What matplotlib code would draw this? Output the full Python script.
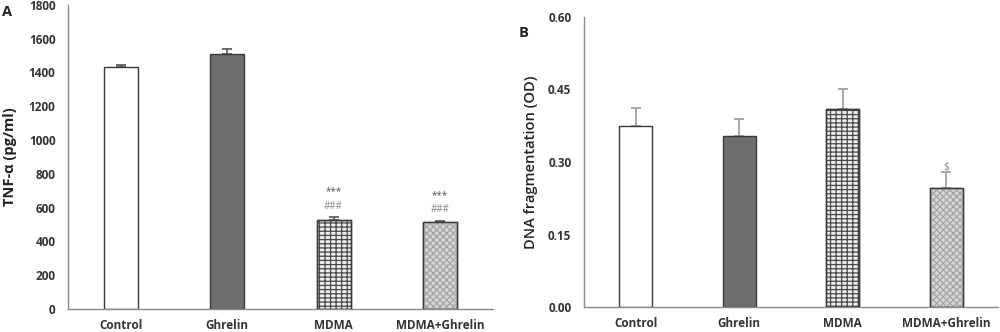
import matplotlib
matplotlib.use("Agg")
import matplotlib.pyplot as plt
import numpy as np

# Data
groups = ["Control", "Ghrelin", "MDMA", "MDMA+Ghrelin"]
tnf_mean = [1430, 1510, 529, 513]
tnf_err = [15, 30, 13, 8]
tnf_star = ["", "", "***", "***"]
tnf_hash = ["", "", "###", "###"]
dna_mean = [0.374, 0.354, 0.409, 0.247]
dna_err = [0.037, 0.034, 0.042, 0.033]
dna_marks = ["", "", "", "$"]

tnf_ticks = [0, 200, 400, 600, 800, 1000, 1200, 1400, 1600, 1800]
dna_ticks = [0.00, 0.15, 0.30, 0.45, 0.60]

plt.rcParams["font.family"] = ["Open Sans", "DejaVu Sans"]
plt.rcParams["hatch.linewidth"] = 0.9

faces = ["white", "#6e6e6e", "#eeeeee", "#d6d6d6"]
hatches = [None, None, "----|||", "xxxxx"]
hatch_cols = ["#444444", "#444444", "#4a4a4a", "#a4a4a4"]
edge = "#3a3a3a"
spine_col = "#8a8a8a"
text_col = "#333333"

fig = plt.figure(figsize=(10, 3.32), dpi=100)
axA = fig.add_axes([0.068, 0.0693, 0.425, 0.916])
axB = fig.add_axes([0.584, 0.0744, 0.414, 0.8753])


def draw_panel(ax, means, errs, ticks, ylabel, err_col, lab_weight):
    x = np.arange(len(groups))
    for i in range(len(groups)):
        ax.bar(x[i], means[i], width=0.32, color=faces[i], edgecolor=edge,
               linewidth=1.0, zorder=2)
        if hatches[i]:
            ax.bar(x[i], means[i], width=0.32, color="none",
                   edgecolor=hatch_cols[i], linewidth=0, hatch=hatches[i],
                   zorder=3)
            ax.bar(x[i], means[i], width=0.32, color="none",
                   edgecolor=edge, linewidth=1.0, zorder=4)
    ax.errorbar(x, means, yerr=[np.zeros(len(errs)), errs], fmt="none",
                ecolor=err_col, elinewidth=1.2, capsize=3.5, capthick=1.2,
                zorder=1)
    ax.set_xlim(-0.5, len(groups) - 0.5)
    ax.set_ylim(0, ticks[-1])
    ax.set_yticks(ticks)
    ax.set_xticks(x)
    ax.set_xticklabels(groups, fontsize=8.5, fontweight="bold", color=text_col)
    ax.tick_params(axis="both", length=0, colors=text_col)
    ax.tick_params(axis="x", pad=7)
    ax.tick_params(axis="y", pad=9, labelsize=8.5)
    for s in ["top", "right"]:
        ax.spines[s].set_visible(False)
    for s in ["left", "bottom"]:
        ax.spines[s].set_color(spine_col)
        ax.spines[s].set_linewidth(1.0)
    ax.set_ylabel(ylabel, fontsize=10.5, fontweight=lab_weight, color="#222222")
    return x


x = draw_panel(axA, tnf_mean, tnf_err, tnf_ticks, "TNF-α (pg/ml)",
               "#555555", "bold")
axA.set_yticklabels([str(t) for t in tnf_ticks], fontweight="bold")
axA.yaxis.set_label_coords(-0.12, 0.5)
for i in range(len(groups)):
    top = tnf_mean[i] + tnf_err[i]
    if tnf_hash[i]:
        axA.text(x[i], top + 65, tnf_hash[i], ha="center", va="center",
                 fontsize=7, color="#8a8a8a")
    if tnf_star[i]:
        axA.text(x[i], top + 150, tnf_star[i], ha="center", va="center",
                 fontsize=7, color="#555555")

x = draw_panel(axB, dna_mean, dna_err, dna_ticks, "DNA fragmentation (OD)",
               "#999999", "semibold")
axB.set_yticklabels([f"{t:.2f}" for t in dna_ticks], fontweight="bold")
axB.yaxis.set_label_coords(-0.11, 0.5)
for i, m in enumerate(dna_marks):
    if m:
        axB.text(x[i], dna_mean[i] + dna_err[i] + 0.008, m, ha="center",
                 va="center", fontsize=7.5, color="#8a8a8a")

fig.text(0.002, 0.965, "A", fontsize=10.5, fontweight="bold", color="#222222",
         va="center")
fig.text(0.519, 0.9, "B", fontsize=10.5, fontweight="bold", color="#222222",
         va="center")

fig.savefig("out.png", dpi=100)
